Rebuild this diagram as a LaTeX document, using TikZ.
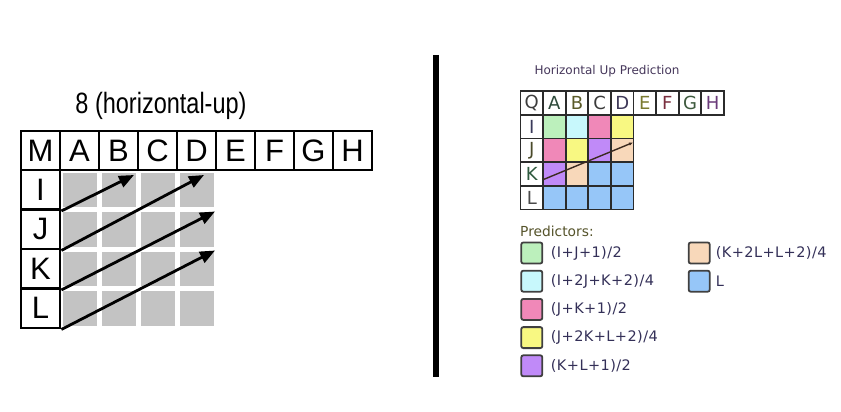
\documentclass[tikz,border=0pt]{standalone}
\usepackage{fontspec}
\usepackage{graphicx}
\setmainfont{Liberation Sans}
\newfontfamily\dvs{DejaVu Sans}
\newfontfamily\dvsl{DejaVu Sans}[LetterSpace=3]
\usetikzlibrary{arrows.meta}
\definecolor{gcell}{HTML}{C3C3C3}
\definecolor{rgrid}{HTML}{2B2B2B}
\definecolor{cgreen}{HTML}{BCF0BC}
\definecolor{ccyan}{HTML}{C8F8FC}
\definecolor{cpink}{HTML}{F088B8}
\definecolor{cyellow}{HTML}{F8F882}
\definecolor{cpurple}{HTML}{C08AF8}
\definecolor{cpeach}{HTML}{F8D8BA}
\definecolor{cblue}{HTML}{96C6F8}
\definecolor{ttitle}{HTML}{45365A}
\definecolor{tpred}{HTML}{55532A}
\definecolor{tleg}{HTML}{343058}
\definecolor{tline}{HTML}{3B2A20}
\begin{document}
\begin{tikzpicture}[x=1pt,y=-1pt,
  lcell/.style={draw=black,line width=2.9pt,fill=white,minimum width=39pt,minimum height=39pt,inner sep=0pt,font=\fontsize{31}{31}\selectfont},
  lcol/.style={lcell,minimum height=39.5pt},
  gbox/.style={fill=gcell,minimum width=34pt,minimum height=34.5pt,inner sep=0pt},
  larr/.style={line width=2.8pt,-{Triangle[length=15pt,width=12pt]}},
  rcell/.style={draw=rgrid,line width=1.8pt,fill=white,minimum width=22.6pt,minimum height=23.7pt,inner sep=0pt,font=\dvs\fontsize{18}{18}\selectfont},
  lbox/.style={draw=rgrid!90,line width=1.8pt,rounded corners=2pt,minimum width=21pt,minimum height=21pt,inner sep=0pt},
  ltxt/.style={anchor=west,inner sep=0pt,text=tleg,font=\dvsl\fontsize{14.5}{14.5}\selectfont}
]
\useasboundingbox (0,0) rectangle (841,412);

% ---------- left diagram ----------
\node (lt) at (161,106) {\scalebox{1}[1.25]{\fontsize{23.5}{24}\selectfont 8 (horizontal-up)}};

% gray cells
\foreach \i in {0,...,3} {
  \foreach \j in {0,...,3} {
    \node[gbox] (g\i\j) at (79.5+39*\j,189.75+39.5*\i) {};
  }
}

% header row
\foreach \t [count=\k from 0] in {M,A,B,C,D,E,F,G,H} {
  \node[lcell] (l\t) at (40.5+39*\k,150.5) {\t};
}
% left column
\foreach \t [count=\k from 0] in {I,J,K,L} {
  \node[lcol] (l\t) at (40.5,189.75+39.5*\k) {\t};
}

\coordinate (a1) at (134,175);
\coordinate (a2) at (204,175);
\coordinate (a3) at (215,211.5);
\coordinate (a4) at (215,250.5);
\draw[larr] (lI.south east) -- (a1);
\draw[larr] (lJ.south east) -- (a2);
\draw[larr] (lK.south east) -- (a3);
\draw[larr] (lL.south east) -- (a4);

% ---------- separator ----------
\coordinate (s1) at (436,55);
\coordinate (s2) at (436,377);
\draw[line width=5.5pt] (s1) -- (s2);

% ---------- right diagram ----------
\node[text=ttitle,font=\dvs\fontsize{12}{12}\selectfont] (rt) at (607,71.5) {Horizontal Up Prediction};

\foreach \t/\c [count=\k from 0] in {Q/3C3C3C,A/2E4A3A,B/5A5A28,C/3A3A3A,D/3E3858,E/7A7A30,F/7A2E3E,G/3E5A3E,H/6A3A7A} {
  \definecolor{tmpc}{HTML}{\c}
  \node[rcell,text=tmpc] (r\t) at (531.8+22.6*\k,102.85) {\t};
}
\foreach \t/\c [count=\k from 1] in {I/3A3A5A,J/4A4A2A,K/2E5A3E,L/4A4A4A} {
  \definecolor{tmpc}{HTML}{\c}
  \node[rcell,text=tmpc] (r\t) at (531.8,102.85+23.7*\k) {\t};
}
% coloured cells
\foreach \r/\cols [count=\k from 1] in {I/{cgreen,ccyan,cpink,cyellow},J/{cpink,cyellow,cpurple,cpeach},K/{cpurple,cpeach,cblue,cblue},L/{cblue,cblue,cblue,cblue}} {
  \foreach \f [count=\m from 1] in \cols {
    \node[rcell,fill=\f] (c\r\m) at (531.8+22.6*\m,102.85+23.7*\k) {};
  }
}
\coordinate (p1) at (543.5,179.5);
\coordinate (p2) at (633,142.5);
\draw[line width=1.4pt,draw=tline,-{Latex[length=4pt,width=3.5pt]}] (p1) -- (p2);

% legend
\node[anchor=west,inner sep=0pt,text=tpred,font=\dvs\fontsize{13.8}{14}\selectfont] (pred) at (520,231) {Predictors:};

\node[lbox,fill=cgreen]  (b1) at (531.8,253)   {};
\node[lbox,fill=ccyan]   (b2) at (531.8,281.2) {};
\node[lbox,fill=cpink]   (b3) at (531.8,309.4) {};
\node[lbox,fill=cyellow] (b4) at (531.8,337.6) {};
\node[lbox,fill=cpurple] (b5) at (531.8,365.8) {};
\node[lbox,fill=cpeach]  (b6) at (699.2,253)   {};
\node[lbox,fill=cblue]   (b7) at (699.2,281.2) {};

\node[ltxt] (t1) at ([xshift=7.5pt]b1.east) {(I+J+1)/2};
\node[ltxt] (t2) at ([xshift=7.5pt]b2.east) {(I+2J+K+2)/4};
\node[ltxt] (t3) at ([xshift=7.5pt]b3.east) {(J+K+1)/2};
\node[ltxt] (t4) at ([xshift=7.5pt]b4.east) {(J+2K+L+2)/4};
\node[ltxt] (t5) at ([xshift=7.5pt]b5.east) {(K+L+1)/2};
\node[ltxt] (t6) at ([xshift=5pt]b6.east) {(K+2L+L+2)/4};
\node[ltxt] (t7) at ([xshift=5pt]b7.east) {L};
\end{tikzpicture}
\end{document}
